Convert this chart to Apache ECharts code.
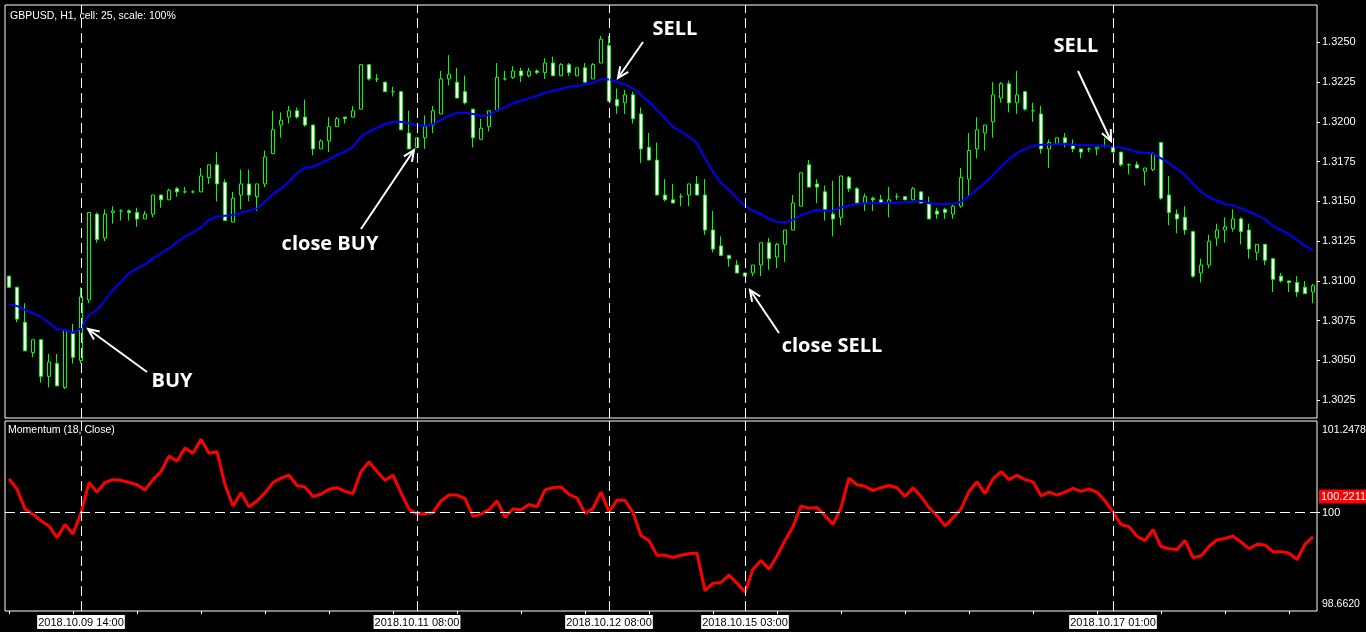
<!DOCTYPE html>
<html>
<head>
<meta charset="utf-8">
<title>GBPUSD, H1</title>
<script src="https://cdn.jsdelivr.net/npm/echarts@6.0.0/dist/echarts.min.js"></script>
<style>
  html, body { margin: 0; padding: 0; background: #000; }
  #chart { width: 1366px; height: 632px; }
</style>
</head>
<body>
<div id="chart"></div>
<script>
// hourly bars per trading day: [date, first hour, last hour]
const sessions = [
  ['2018.10.09', 5, 23],
  ['2018.10.10', 0, 23],
  ['2018.10.11', 0, 23],
  ['2018.10.12', 0, 21],
  ['2018.10.15', 0, 23],
  ['2018.10.16', 0, 23],
  ['2018.10.17', 0, 23],
  ['2018.10.18', 0, 2]
];

// bars marked with vertical lines (their labels show on the time axis)
const markedTimes = ['2018.10.09 14:00', '2018.10.11 08:00', '2018.10.12 08:00', '2018.10.15 03:00', '2018.10.17 01:00'];

const priceTicks = [1.3025, 1.3050, 1.3075, 1.3100, 1.3125, 1.3150, 1.3175, 1.3200, 1.3225, 1.3250];
const priceRange = [1.30138, 1.32735];
const momentumRange = [98.6620, 101.2478];
const momentumLevel = 100;
const momentumLast = 100.2211;

const opens = [
  1.3103, 1.3096, 1.3074, 1.3055, 1.3063, 1.3040, 1.3048, 1.3033, 1.3067, 1.3050,
  1.3088, 1.3142, 1.3127, 1.3143, 1.3144, 1.3144, 1.3143, 1.3139, 1.3142, 1.3154,
  1.3151, 1.3158, 1.3156, 1.3156, 1.3156, 1.3165, 1.3173, 1.3162, 1.3137, 1.3154,
  1.3161, 1.3153, 1.3161, 1.3180, 1.3198, 1.3203, 1.3207, 1.3203, 1.3198, 1.3183,
  1.3188, 1.3197, 1.3203, 1.3203, 1.3208, 1.3236, 1.3227, 1.3225, 1.3219, 1.3219,
  1.3193, 1.3184, 1.3190, 1.3198, 1.3205, 1.3227, 1.3225, 1.3219, 1.3208, 1.3189,
  1.3197, 1.3207, 1.3227, 1.3228, 1.3232, 1.3229, 1.3232, 1.3231, 1.3237, 1.3229,
  1.3236, 1.3229, 1.3234, 1.3227, 1.3237, 1.3248, 1.3214, 1.3212, 1.3217, 1.3205,
  1.3184, 1.3176, 1.3154, 1.3151, 1.3153, 1.3154, 1.3161, 1.3154, 1.3132, 1.3122,
  1.3116, 1.3110, 1.3105, 1.3105, 1.3110, 1.3124, 1.3115, 1.3123, 1.3132, 1.3147,
  1.3173, 1.3161, 1.3156, 1.3142, 1.3140, 1.3165, 1.3158, 1.3149, 1.3152, 1.3151,
  1.3149, 1.3153, 1.3153, 1.3151, 1.3156, 1.3149, 1.3144, 1.3145, 1.3142, 1.3147,
  1.3164, 1.3183, 1.3193, 1.3200, 1.3215, 1.3224, 1.3212, 1.3219, 1.3207, 1.3205,
  1.3183, 1.3186, 1.3190, 1.3185, 1.3183, 1.3183, 1.3183, 1.3185, 1.3184, 1.3181,
  1.3173, 1.3173, 1.3169, 1.3170, 1.3187, 1.3154, 1.3142, 1.3140, 1.3131, 1.3105,
  1.3110, 1.3127, 1.3132, 1.3133, 1.3139, 1.3132, 1.3118, 1.3123, 1.3114, 1.3103,
  1.3100, 1.3099, 1.3096, 1.3093
];
const highs = [
  1.3103, 1.3096, 1.3086, 1.3063, 1.3063, 1.3054, 1.3054, 1.3069, 1.3073, 1.3096,
  1.3143, 1.3143, 1.3145, 1.3147, 1.3145, 1.3145, 1.3146, 1.3144, 1.3154, 1.3154,
  1.3158, 1.3159, 1.3159, 1.3157, 1.3171, 1.3173, 1.3181, 1.3164, 1.3156, 1.3170,
  1.3170, 1.3161, 1.3182, 1.3207, 1.3206, 1.3210, 1.3209, 1.3214, 1.3198, 1.3189,
  1.3203, 1.3203, 1.3203, 1.3210, 1.3236, 1.3236, 1.3230, 1.3225, 1.3222, 1.3219,
  1.3207, 1.3190, 1.3204, 1.3210, 1.3232, 1.3242, 1.3234, 1.3229, 1.3208, 1.3202,
  1.3207, 1.3237, 1.3232, 1.3235, 1.3234, 1.3234, 1.3233, 1.3240, 1.3241, 1.3237,
  1.3237, 1.3234, 1.3237, 1.3237, 1.3254, 1.3254, 1.3221, 1.3220, 1.3219, 1.3209,
  1.3193, 1.3187, 1.3164, 1.3161, 1.3155, 1.3161, 1.3166, 1.3164, 1.3144, 1.3128,
  1.3116, 1.3113, 1.3105, 1.3110, 1.3124, 1.3127, 1.3124, 1.3132, 1.3154, 1.3168,
  1.3176, 1.3164, 1.3160, 1.3163, 1.3166, 1.3166, 1.3159, 1.3155, 1.3153, 1.3154,
  1.3159, 1.3155, 1.3153, 1.3159, 1.3156, 1.3153, 1.3146, 1.3146, 1.3149, 1.3171,
  1.3193, 1.3203, 1.3198, 1.3225, 1.3225, 1.3226, 1.3232, 1.3219, 1.3212, 1.3210,
  1.3189, 1.3190, 1.3193, 1.3189, 1.3183, 1.3184, 1.3184, 1.3190, 1.3185, 1.3181,
  1.3174, 1.3175, 1.3171, 1.3181, 1.3187, 1.3166, 1.3145, 1.3147, 1.3131, 1.3114,
  1.3129, 1.3136, 1.3140, 1.3145, 1.3140, 1.3136, 1.3123, 1.3123, 1.3114, 1.3105,
  1.3100, 1.3103, 1.3100, 1.3098
];
const lows = [
  1.3096, 1.3074, 1.3056, 1.3052, 1.3036, 1.3033, 1.3034, 1.3032, 1.3048, 1.3048,
  1.3086, 1.3124, 1.3125, 1.3136, 1.3138, 1.3138, 1.3134, 1.3139, 1.3140, 1.3146,
  1.3151, 1.3153, 1.3155, 1.3155, 1.3156, 1.3161, 1.3150, 1.3138, 1.3137, 1.3145,
  1.3150, 1.3144, 1.3159, 1.3180, 1.3190, 1.3199, 1.3202, 1.3197, 1.3179, 1.3183,
  1.3181, 1.3197, 1.3199, 1.3203, 1.3208, 1.3226, 1.3225, 1.3219, 1.3216, 1.3195,
  1.3183, 1.3184, 1.3183, 1.3193, 1.3205, 1.3223, 1.3215, 1.3211, 1.3184, 1.3189,
  1.3194, 1.3207, 1.3226, 1.3227, 1.3225, 1.3228, 1.3230, 1.3227, 1.3229, 1.3229,
  1.3229, 1.3229, 1.3225, 1.3227, 1.3237, 1.3213, 1.3205, 1.3205, 1.3199, 1.3174,
  1.3176, 1.3154, 1.3150, 1.3149, 1.3147, 1.3147, 1.3154, 1.3129, 1.3118, 1.3116,
  1.3109, 1.3105, 1.3103, 1.3103, 1.3103, 1.3107, 1.3108, 1.3112, 1.3132, 1.3147,
  1.3159, 1.3149, 1.3138, 1.3128, 1.3135, 1.3156, 1.3149, 1.3144, 1.3144, 1.3149,
  1.3140, 1.3151, 1.3151, 1.3151, 1.3149, 1.3139, 1.3139, 1.3139, 1.3139, 1.3146,
  1.3153, 1.3177, 1.3182, 1.3190, 1.3212, 1.3206, 1.3205, 1.3207, 1.3200, 1.3180,
  1.3171, 1.3186, 1.3184, 1.3181, 1.3177, 1.3181, 1.3179, 1.3184, 1.3181, 1.3172,
  1.3167, 1.3171, 1.3160, 1.3169, 1.3151, 1.3135, 1.3130, 1.3129, 1.3102, 1.3099,
  1.3108, 1.3122, 1.3124, 1.3131, 1.3123, 1.3114, 1.3113, 1.3110, 1.3093, 1.3099,
  1.3093, 1.3090, 1.3092, 1.3086
];
const closes = [
  1.3096, 1.3076, 1.3056, 1.3063, 1.3040, 1.3049, 1.3034, 1.3069, 1.3052, 1.3090,
  1.3143, 1.3126, 1.3142, 1.3144, 1.3144, 1.3143, 1.3139, 1.3142, 1.3154, 1.3151,
  1.3157, 1.3156, 1.3156, 1.3156, 1.3166, 1.3173, 1.3161, 1.3138, 1.3152, 1.3161,
  1.3154, 1.3161, 1.3178, 1.3195, 1.3201, 1.3207, 1.3203, 1.3198, 1.3183, 1.3188,
  1.3197, 1.3202, 1.3202, 1.3207, 1.3236, 1.3227, 1.3227, 1.3219, 1.3219, 1.3195,
  1.3183, 1.3190, 1.3197, 1.3207, 1.3227, 1.3230, 1.3215, 1.3212, 1.3190, 1.3196,
  1.3207, 1.3228, 1.3227, 1.3232, 1.3229, 1.3232, 1.3231, 1.3237, 1.3229, 1.3236,
  1.3231, 1.3234, 1.3225, 1.3236, 1.3252, 1.3213, 1.3210, 1.3217, 1.3202, 1.3183,
  1.3176, 1.3154, 1.3151, 1.3149, 1.3153, 1.3161, 1.3154, 1.3132, 1.3120, 1.3116,
  1.3114, 1.3105, 1.3103, 1.3110, 1.3124, 1.3114, 1.3123, 1.3132, 1.3149, 1.3168,
  1.3159, 1.3159, 1.3145, 1.3139, 1.3166, 1.3158, 1.3149, 1.3153, 1.3151, 1.3149,
  1.3151, 1.3153, 1.3151, 1.3158, 1.3149, 1.3139, 1.3142, 1.3143, 1.3147, 1.3165,
  1.3182, 1.3195, 1.3198, 1.3217, 1.3224, 1.3212, 1.3217, 1.3208, 1.3207, 1.3183,
  1.3187, 1.3190, 1.3187, 1.3183, 1.3181, 1.3183, 1.3184, 1.3185, 1.3181, 1.3173,
  1.3173, 1.3171, 1.3171, 1.3180, 1.3152, 1.3143, 1.3139, 1.3132, 1.3103, 1.3110,
  1.3125, 1.3132, 1.3134, 1.3139, 1.3131, 1.3120, 1.3123, 1.3113, 1.3101, 1.3100,
  1.3099, 1.3093, 1.3092, 1.3097
];
// blue moving average
const movingAvg = [
  1.30853, 1.30842, 1.30817, 1.30796, 1.30775, 1.30737, 1.30696, 1.30691, 1.30674, 1.30702,
  1.30786, 1.30817, 1.30880, 1.30943, 1.30995, 1.31048, 1.31079, 1.31104, 1.31142, 1.31174,
  1.31205, 1.31243, 1.31278, 1.31306, 1.31337, 1.31383, 1.31404, 1.31410, 1.31414, 1.31431,
  1.31441, 1.31456, 1.31498, 1.31546, 1.31582, 1.31624, 1.31677, 1.31712, 1.31718, 1.31739,
  1.31765, 1.31792, 1.31812, 1.31844, 1.31907, 1.31938, 1.31963, 1.31985, 1.31999, 1.32001,
  1.31991, 1.31976, 1.31976, 1.31985, 1.32012, 1.32039, 1.32057, 1.32057, 1.32049, 1.32037,
  1.32043, 1.32074, 1.32091, 1.32117, 1.32133, 1.32148, 1.32164, 1.32183, 1.32194, 1.32208,
  1.32221, 1.32225, 1.32236, 1.32246, 1.32267, 1.32267, 1.32252, 1.32236, 1.32211, 1.32169,
  1.32127, 1.32074, 1.32022, 1.31969, 1.31938, 1.31907, 1.31865, 1.31771, 1.31687, 1.31617,
  1.31572, 1.31519, 1.31473, 1.31440, 1.31421, 1.31389, 1.31372, 1.31368, 1.31383, 1.31414,
  1.31431, 1.31446, 1.31441, 1.31441, 1.31463, 1.31473, 1.31484, 1.31488, 1.31488, 1.31488,
  1.31492, 1.31492, 1.31494, 1.31498, 1.31504, 1.31488, 1.31484, 1.31482, 1.31485, 1.31498,
  1.31534, 1.31576, 1.31617, 1.31666, 1.31718, 1.31766, 1.31802, 1.31829, 1.31850, 1.31856,
  1.31856, 1.31859, 1.31859, 1.31856, 1.31854, 1.31853, 1.31850, 1.31850, 1.31846, 1.31837,
  1.31827, 1.31810, 1.31806, 1.31802, 1.31771, 1.31739, 1.31702, 1.31666, 1.31609, 1.31561,
  1.31526, 1.31504, 1.31484, 1.31475, 1.31456, 1.31435, 1.31414, 1.31387, 1.31345, 1.31320,
  1.31293, 1.31257, 1.31220, 1.31190
];
// Momentum (18, Close)
const momentum = [
  100.46, 100.32, 100.05, 99.98, 99.89, 99.82, 99.66, 99.84, 99.71, 100.00,
  100.41, 100.28, 100.41, 100.45, 100.44, 100.41, 100.38, 100.31, 100.45, 100.56,
  100.77, 100.70, 100.88, 100.81, 101.00, 100.81, 100.83, 100.38, 100.09, 100.27,
  100.08, 100.16, 100.27, 100.41, 100.47, 100.51, 100.37, 100.35, 100.22, 100.25,
  100.32, 100.34, 100.29, 100.26, 100.56, 100.69, 100.56, 100.44, 100.51, 100.27,
  100.05, 99.98, 99.99, 100.00, 100.16, 100.24, 100.24, 100.19, 99.95, 99.98,
  100.04, 100.16, 99.94, 100.05, 100.04, 100.11, 100.08, 100.31, 100.34, 100.35,
  100.25, 100.20, 99.99, 100.06, 100.28, 100.01, 100.17, 100.17, 100.00, 99.69,
  99.62, 99.42, 99.42, 99.39, 99.42, 99.44, 99.45, 98.94, 99.04, 99.05,
  99.15, 99.04, 98.92, 99.23, 99.35, 99.23, 99.41, 99.62, 99.81, 100.09,
  100.06, 100.07, 99.96, 99.84, 100.07, 100.47, 100.38, 100.36, 100.30, 100.34,
  100.37, 100.34, 100.22, 100.34, 100.22, 100.07, 99.96, 99.82, 99.93, 100.05,
  100.29, 100.42, 100.26, 100.46, 100.56, 100.45, 100.51, 100.45, 100.42, 100.23,
  100.28, 100.24, 100.28, 100.33, 100.29, 100.32, 100.28, 100.16, 100.01, 99.84,
  99.81, 99.68, 99.62, 99.77, 99.54, 99.51, 99.50, 99.62, 99.39, 99.41,
  99.54, 99.63, 99.65, 99.68, 99.60, 99.51, 99.57, 99.56, 99.47, 99.47,
  99.45, 99.36, 99.57, 99.67
];

const categories = [];
sessions.forEach(([day, from, to]) => {
  for (let h = from; h <= to; h++) {
    categories.push(day + ' ' + String(h).padStart(2, '0') + ':00');
  }
});
const candles = opens.map((o, i) => [o, closes[i], lows[i], highs[i]]);

const FONT = '"Liberation Sans", Arial, sans-serif';
const dashed = { color: '#fff', width: 1, type: [10, 5] };
const vLines = markedTimes.map(t => ({ xAxis: t }));

// drawn-on trade notes
function arrow(x1, y1, x2, y2) {
  const a = Math.atan2(y2 - y1, x2 - x1);
  const len = 12, spread = 0.42;
  const p1 = [x2 - len * Math.cos(a - spread), y2 - len * Math.sin(a - spread)];
  const p2 = [x2 - len * Math.cos(a + spread), y2 - len * Math.sin(a + spread)];
  return [
    { type: 'line', shape: { x1, y1, x2, y2 }, style: { stroke: '#fff', lineWidth: 2 } },
    { type: 'polyline', shape: { points: [p1, [x2, y2], p2] }, style: { stroke: '#fff', lineWidth: 2, fill: null } }
  ];
}
function note(text, x, y) {
  return {
    type: 'text', x, y,
    style: {
      text, fill: '#fff', font: 'bold 20px "Open Sans", sans-serif',
      align: 'center', verticalAlign: 'middle', textAlign: 'center', textVerticalAlign: 'middle'
    }
  };
}
function small(text, x, y) {
  return {
    type: 'text', x, y,
    style: { text, fill: '#fff', font: '10.5px ' + FONT, verticalAlign: 'middle', textVerticalAlign: 'middle' }
  };
}

const chart = echarts.init(document.getElementById('chart'));

const option = {
  backgroundColor: '#000',
  animation: false,
  grid: [
    { left: 5, top: 5, width: 1312, height: 413, show: true, borderColor: '#fff', borderWidth: 1 },
    { left: 5, top: 421, width: 1312, height: 190, show: true, borderColor: '#fff', borderWidth: 1 }
  ],
  xAxis: [
    {
      type: 'category', gridIndex: 0, data: categories, boundaryGap: true,
      axisLine: { show: false }, axisTick: { show: false }, axisLabel: { show: false }, splitLine: { show: false }
    },
    {
      type: 'category', gridIndex: 1, data: categories, boundaryGap: true,
      axisLine: { show: false },
      axisTick: {
        show: true, alignWithLabel: true, length: 3,
        interval: (i) => i % 8 === 0,
        lineStyle: { color: '#fff' }
      },
      axisLabel: {
        interval: (i, v) => markedTimes.includes(v),
        color: '#000', backgroundColor: '#fff', padding: [2, 1, 1, 1],
        fontFamily: FONT, fontSize: 11, margin: 4
      },
      splitLine: { show: false }
    }
  ],
  yAxis: [
    {
      type: 'value', gridIndex: 0, position: 'right',
      min: priceRange[0], max: priceRange[1],
      axisLine: { show: false },
      axisTick: { show: true, length: 3, customValues: priceTicks, lineStyle: { color: '#fff' } },
      axisLabel: {
        customValues: priceTicks, formatter: v => v.toFixed(4),
        color: '#fff', fontFamily: FONT, fontSize: 11, margin: 5
      },
      splitLine: { show: false }
    },
    {
      type: 'value', gridIndex: 1, position: 'right',
      min: momentumRange[0], max: momentumRange[1],
      axisLine: { show: false },
      axisTick: { show: true, length: 3, customValues: [momentumLevel], lineStyle: { color: '#fff' } },
      axisLabel: {
        customValues: [momentumLevel], formatter: v => String(v),
        color: '#fff', fontFamily: FONT, fontSize: 11, margin: 5
      },
      splitLine: { show: false }
    }
  ],
  series: [
    {
      name: 'GBPUSD', type: 'candlestick', xAxisIndex: 0, yAxisIndex: 0,
      data: candles, barWidth: 4,
      itemStyle: { color: '#000', color0: '#fff', borderColor: '#00ff00', borderColor0: '#00ff00', borderWidth: 1 },
      markLine: { silent: true, symbol: 'none', label: { show: false }, lineStyle: dashed, data: vLines }
    },
    {
      name: 'MA', type: 'line', xAxisIndex: 0, yAxisIndex: 0,
      data: movingAvg, symbol: 'none', lineStyle: { color: '#0000ff', width: 2 }
    },
    {
      name: 'Momentum', type: 'line', xAxisIndex: 1, yAxisIndex: 1,
      data: momentum, symbol: 'none', lineStyle: { color: '#ff0000', width: 3 },
      markLine: {
        silent: true, symbol: 'none', label: { show: false }, lineStyle: dashed,
        data: vLines.concat([
          { yAxis: momentumLevel },
          {
            yAxis: momentumLast,
            lineStyle: { color: 'rgba(0,0,0,0)' },
            label: {
              show: true, position: 'end', distance: 2,
              formatter: momentumLast.toFixed(4),
              color: '#fff', backgroundColor: '#ff0000', padding: [2, 2, 1, 2],
              fontFamily: FONT, fontSize: 11
            }
          }
        ])
      }
    }
  ],
  graphic: [
    small('GBPUSD, H1, cell: 25, scale: 100%', 10, 16),
    small('Momentum (18, Close)', 8, 430),
    small(momentumRange[1].toFixed(4), 1322, 430),
    small(momentumRange[0].toFixed(4), 1322, 604),
    note('BUY', 172, 381),
    note('close BUY', 330, 244),
    note('SELL', 675, 29),
    note('close SELL', 832, 346),
    note('SELL', 1076, 46),
    ...arrow(147, 372, 88, 329),
    ...arrow(361, 229, 414, 150),
    ...arrow(643, 42, 618, 78),
    ...arrow(779, 333, 750, 290),
    ...arrow(1078, 71, 1111, 141)
  ]
};

chart.setOption(option);
</script>
</body>
</html>
